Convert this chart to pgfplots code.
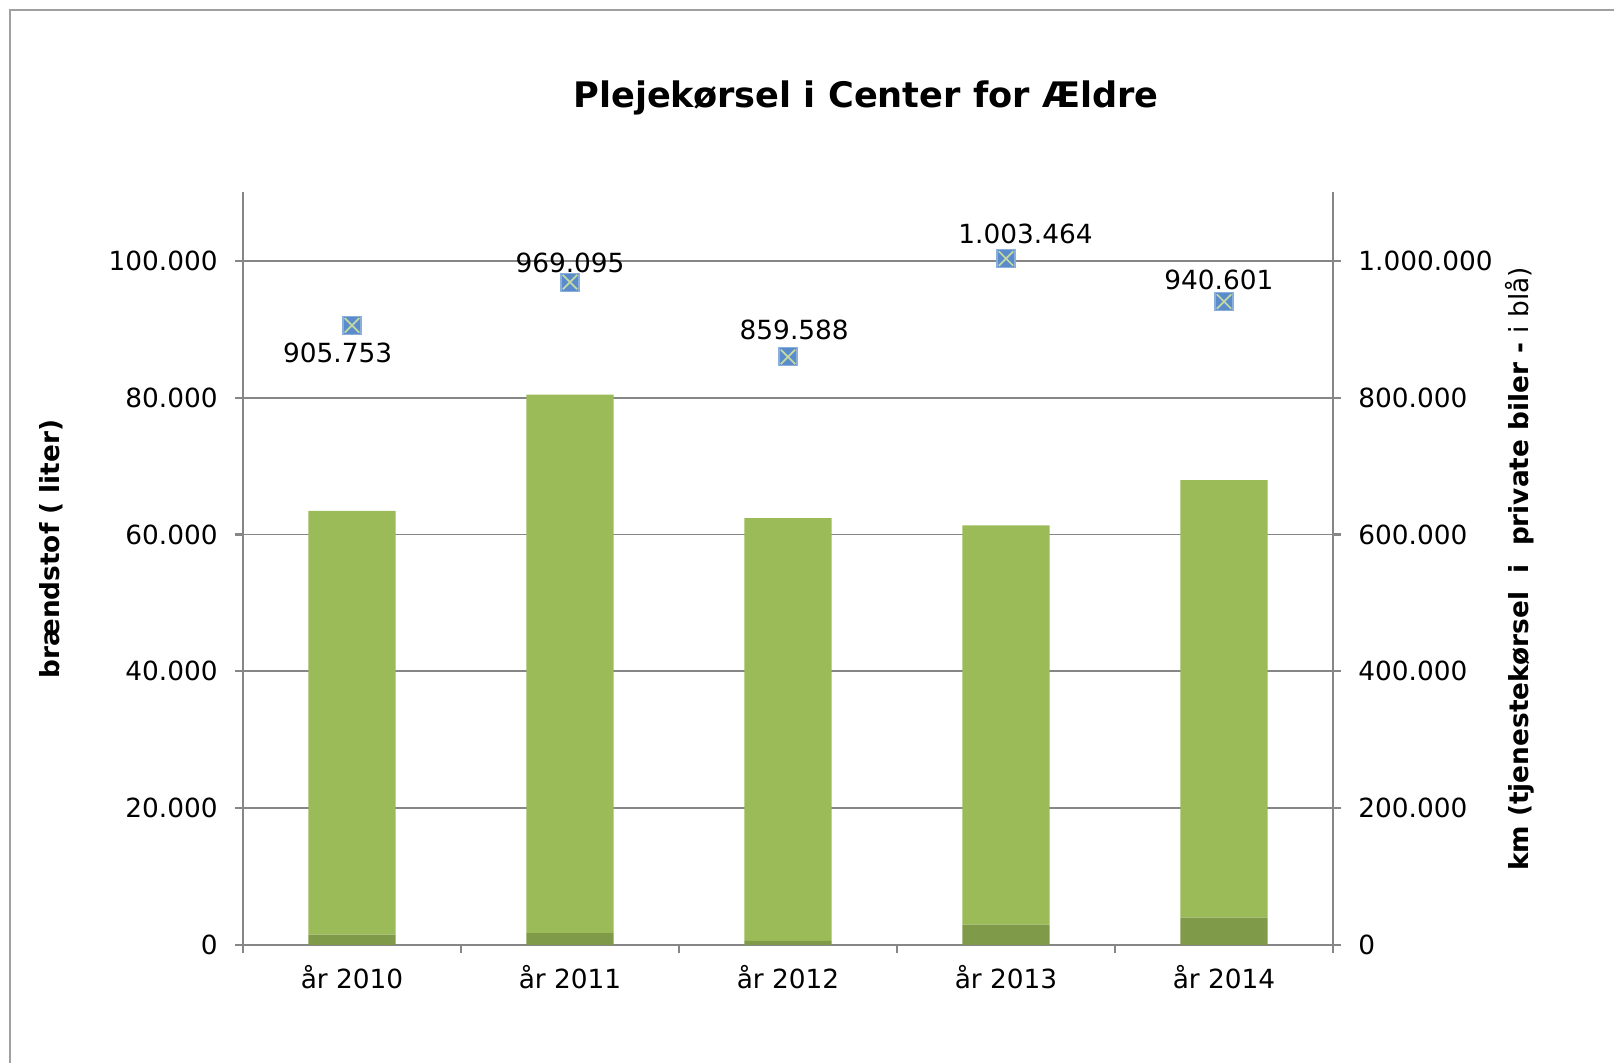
\documentclass[border=0pt]{standalone}
\usepackage{pgfplots}
\pgfplotsset{compat=1.18}
\usepackage{pgfplotstable}
\usepackage{fontspec}
\setmainfont{DejaVu Sans}
\definecolor{lgreen}{HTML}{9BBB59}
\definecolor{dgreen}{HTML}{7F9A48}
\definecolor{mkblue}{HTML}{5A8CCB}
\definecolor{mkx}{HTML}{C4D8A2}
\definecolor{axgray}{HTML}{868686}
\definecolor{framegray}{HTML}{A0A0A0}

\pgfplotstableread{
x dark light
0 1500 61960
1 1750 78700
2 600 61800
3 2970 58380
4 4000 63970
}\fuel

\pgfplotstableread{
x km dx dy label
0 905753 -1.44 -2.78 905.753
1 969095 0.0 1.95 969.095
2 859588 0.62 2.67 859.588
3 1003464 1.95 2.47 1.003.464
4 940601 -0.51 2.16 940.601
}\kmdata

\pgfdeclareplotmark{sqx}{%
  \pgfpathrectangle{\pgfpoint{-\pgfplotmarksize}{-\pgfplotmarksize}}{\pgfpoint{2\pgfplotmarksize}{2\pgfplotmarksize}}%
  \pgfsetfillcolor{mkblue}\pgfsetstrokecolor{mkblue!70!white}\pgfsetlinewidth{0.3pt}%
  \pgfusepath{fill,stroke}%
  \pgfpathmoveto{\pgfpoint{-0.8\pgfplotmarksize}{-0.8\pgfplotmarksize}}%
  \pgfpathlineto{\pgfpoint{0.8\pgfplotmarksize}{0.8\pgfplotmarksize}}%
  \pgfpathmoveto{\pgfpoint{-0.8\pgfplotmarksize}{0.8\pgfplotmarksize}}%
  \pgfpathlineto{\pgfpoint{0.8\pgfplotmarksize}{-0.8\pgfplotmarksize}}%
  \pgfsetstrokecolor{mkx}\pgfsetlinewidth{0.5pt}%
  \pgfusepath{stroke}%
}

\begin{document}
\begin{tikzpicture}[font=\fontsize{7.5}{9}\selectfont]
\useasboundingbox (0,0) rectangle (161.4mm,106.3mm);
\draw[framegray, line width=0.6pt] (1.0mm,0) -- (1.0mm,105.3mm) -- (161.4mm,105.3mm);

\begin{axis}[
  at={(24.3mm,11.8mm)}, anchor=south west,
  width=109mm, height=75.25mm, scale only axis,
  xmin=-0.5, xmax=4.5, ymin=0, ymax=110000,
  enlarge x limits=false,
  axis x line*=bottom, axis y line*=left,
  axis line style={axgray, line width=0.6pt},
  xtick={0,1,2,3,4},
  xticklabels={år 2010, år 2011, år 2012, år 2013, år 2014},
  minor xtick={-0.5,0.5,1.5,2.5,3.5,4.5},
  major x tick style={draw=none},
  minor x tick style={axgray, line width=0.6pt},
  minor tick length=0.8mm,
  major tick length=0.8mm,
  tick align=outside,
  ytick={0,20000,40000,60000,80000,100000},
  ytick style={axgray, line width=0.6pt},
  scaled y ticks=false,
  /pgf/number format/fixed,
  /pgf/number format/1000 sep={.},
  /pgf/number format/assume math mode=true,
  yticklabel style={xshift=-0.5mm},
  xticklabel style={yshift=0mm},
  ymajorgrids,
  major grid style={axgray, line width=0.5pt},
  ybar stacked, bar width=0.4,
  tick label style={font=\fontsize{7.5}{9}\selectfont},
]
\addplot[fill=dgreen, draw=none] table[x=x, y=dark] {\fuel};
\addplot[fill=lgreen, draw=none] table[x=x, y=light] {\fuel};
\end{axis}

\begin{axis}[
  at={(24.3mm,11.8mm)}, anchor=south west,
  width=109mm, height=75.25mm, scale only axis,
  xmin=-0.5, xmax=4.5, ymin=0, ymax=1100000,
  axis x line=none, axis y line*=right,
  axis line style={axgray, line width=0.6pt},
  ytick={0,200000,400000,600000,800000,1000000},
  ytick style={axgray, line width=0.6pt},
  tick align=outside, major tick length=0.8mm,
  scaled y ticks=false,
  /pgf/number format/fixed,
  /pgf/number format/1000 sep={.},
  /pgf/number format/assume math mode=true,
  yticklabel style={xshift=0.5mm},
  tick label style={font=\fontsize{7.5}{9}\selectfont},
]
\addplot[only marks, mark=sqx, mark size=0.9mm,
  point meta=explicit symbolic,
  visualization depends on={\thisrow{dx} \as \dx},
  visualization depends on={\thisrow{dy} \as \dy},
  nodes near coords,
  every node near coord/.append style={anchor=center, xshift=\dx mm, yshift=\dy mm, font=\fontsize{7.5}{9}\selectfont, text=black},
] table[x=x, y=km, meta=label] {\kmdata};
\end{axis}

\node[font=\bfseries\fontsize{10}{12}\selectfont] at (86.6mm,96.5mm) {Plejekørsel i Center for Ældre};
\node[rotate=90, font=\bfseries\fontsize{7.5}{9}\selectfont] at (5.15mm,51.4mm) {brændstof ( liter)};
\node[rotate=90] at (152.0mm,49.4mm) {\textbf{km (tjenestekørsel\ \ i\ \ private biler - }i blå)};
\end{tikzpicture}
\end{document}
